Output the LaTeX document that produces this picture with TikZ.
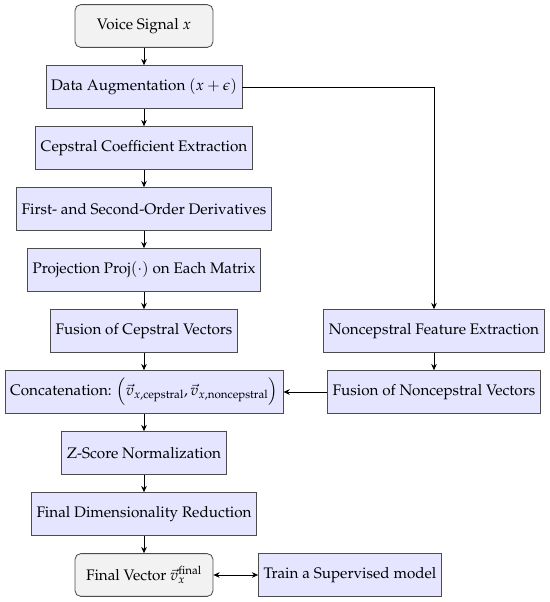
\documentclass[tikz,border=0pt]{standalone}
\usepackage{amsmath}
\usepackage[T1]{fontenc}
\usepackage{mathpazo}
\usetikzlibrary{arrows.meta}

\begin{document}
\begin{tikzpicture}[x=0.0251cm,y=-0.0251cm,
		box/.style={draw=black!70,semithick,fill=blue!10,minimum height=30.5pt,inner xsep=3.6pt,
			font=\fontsize{10.9pt}{13pt}\selectfont},
		io/.style={box,rounded corners=4pt,fill=black!5,minimum width=98.5pt},
		arr/.style={-{Stealth[length=4.5pt,width=4pt]},semithick}]
	\useasboundingbox (0,0) rectangle (550,602);
	% main column
	\node[io] (voice) at (144,26) {Voice Signal $x$};
	\node[box] (aug) at (144,87) {Data Augmentation $(x+\epsilon)$};
	\node[box] (ceps) at (144,148) {Cepstral Coefficient Extraction};
	\node[box] (deriv) at (144,209) {First- and Second-Order Derivatives};
	\node[box] (proj) at (144,270) {Projection $\operatorname{Proj}(\cdot)$ on Each Matrix};
	\node[box] (fusc) at (144,331) {Fusion of Cepstral Vectors};
	\node[box] (concat) at (144,392) {Concatenation: $\left(\vec{v}_{x,\text{cepstral}},\vec{v}_{x,\text{noncepstral}}\right)$};
	\node[box] (zscore) at (144,453) {Z-Score Normalization};
	\node[box] (dimred) at (144,514) {Final Dimensionality Reduction};
	\node[io] (final) at (144,575) {Final Vector $\vec{v}_x^{\text{final}}$};
	% right column
	\node[box] (nonfeat) at (434,331) {Noncepstral Feature Extraction};
	\node[box] (fusn) at (434,392) {Fusion of Noncepstral Vectors};
	\node[box] (train) at (350,575) {Train a Supervised model};
	% arrows
	\draw[arr] (voice) -- (aug);
	\draw[arr] (aug) -- (ceps);
	\draw[arr] (ceps) -- (deriv);
	\draw[arr] (deriv) -- (proj);
	\draw[arr] (proj) -- (fusc);
	\draw[arr] (fusc) -- (concat);
	\draw[arr] (concat) -- (zscore);
	\draw[arr] (zscore) -- (dimred);
	\draw[arr] (dimred) -- (final);
	\draw[arr] (aug.east) -| (nonfeat.north);
	\draw[arr] (nonfeat) -- (fusn);
	\draw[arr] (fusn) -- (concat);
	\draw[arr,{Stealth[length=4.5pt,width=4pt]}-{Stealth[length=4.5pt,width=4pt]}] (final) -- (train);
\end{tikzpicture}
\end{document}
